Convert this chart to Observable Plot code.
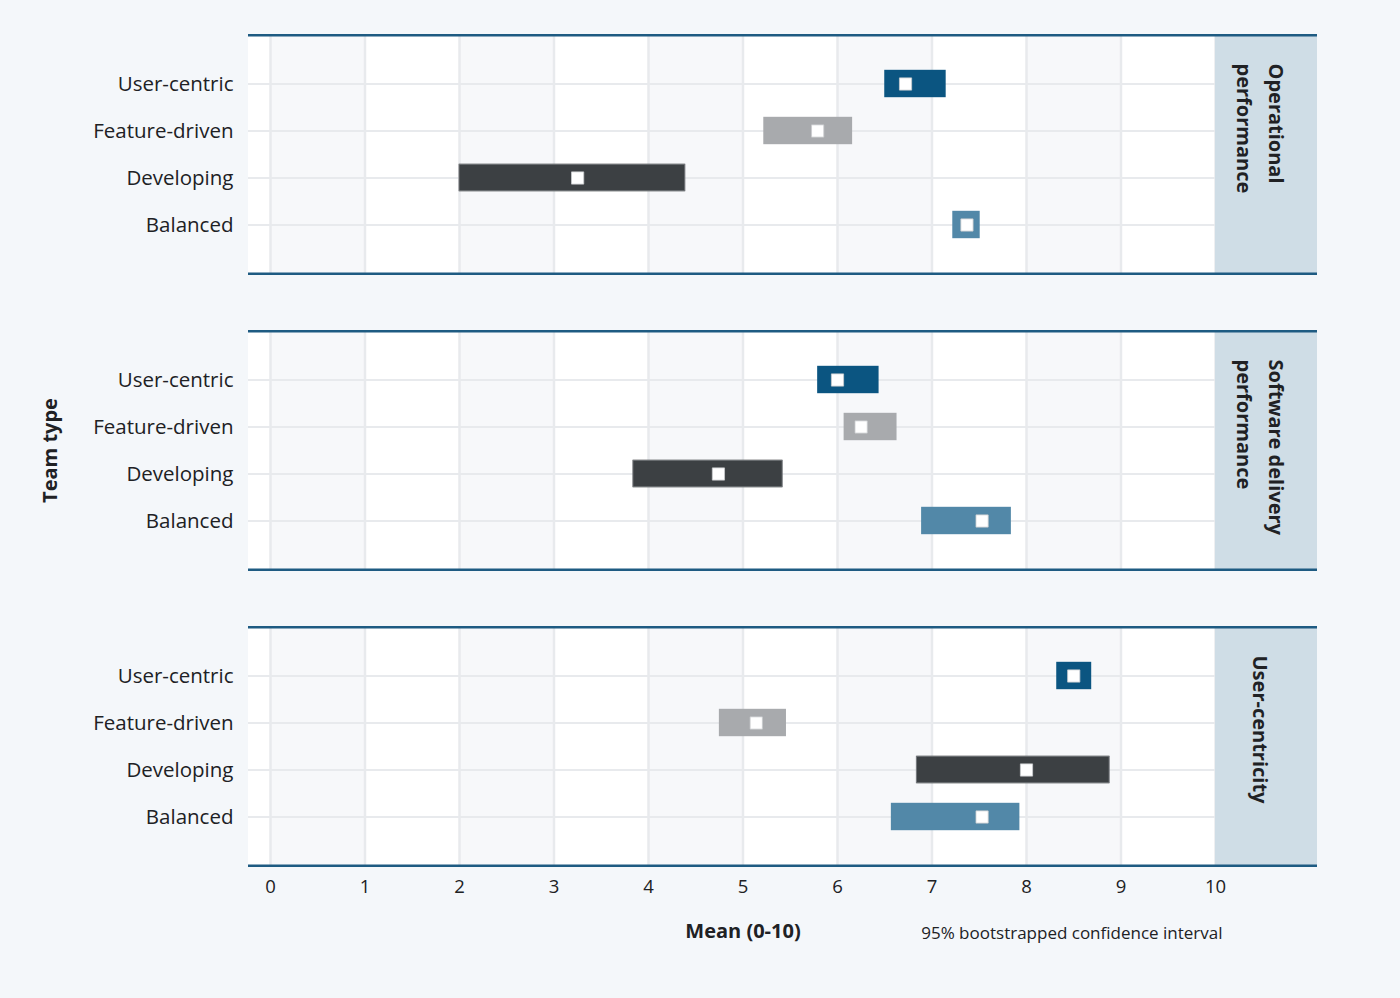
<!DOCTYPE html>
<html>
<head>
<meta charset="utf-8">
<script src="https://cdn.jsdelivr.net/npm/d3@7"></script>
<script src="https://cdn.jsdelivr.net/npm/@observablehq/plot@0.6"></script>
<style>
  html, body { margin: 0; padding: 0; background: #f4f7fa; }
  #chart svg { display: block; }
</style>
</head>
<body>
<div id="chart"></div>
<script>
const facets = ["Operational performance", "Software delivery performance", "User-centricity"];
const facetLabels = ["Operational\nperformance", "Software delivery\nperformance", "User-centricity"];
const teams = ["User-centric", "Feature-driven", "Developing", "Balanced"];
const teamColors = ["#0b5581", "#a8aaad", "#3c4043", "#5288a8"];
const lower = [[6.50, 5.22, 2.00, 7.22], [5.79, 6.07, 3.84, 6.89], [8.32, 4.75, 6.84, 6.57]];
const upper = [[7.15, 6.16, 4.39, 7.51], [6.44, 6.63, 5.42, 7.84], [8.69, 5.46, 8.88, 7.93]];
const means = [[6.72, 5.79, 3.25, 7.37], [6.00, 6.25, 4.74, 7.53], [8.50, 5.14, 8.00, 7.53]];
const xTicks = [0, 1, 2, 3, 4, 5, 6, 7, 8, 9, 10];
const shadedBands = [0, 2, 4, 6, 8];

const data = [];
facets.forEach((f, i) => teams.forEach((t, j) => data.push({facet: f, team: t, lo: lower[i][j], hi: upper[i][j], mean: means[i][j]})));
const stripData = facets.map((f, i) => ({facet: f, label: facetLabels[i]}));

const xmin = -22 / 94.5, xmax = 10 + 102 / 94.5;
const panelH = 238;
const font = "'Open Sans', Roboto, sans-serif";

const chart = Plot.plot({
  width: 1400,
  height: 998,
  marginLeft: 248,
  marginRight: 83,
  marginTop: 35,
  marginBottom: 133,
  style: {background: "#f4f7fa", fontFamily: font, color: "#202124"},
  x: {domain: [xmin, xmax], axis: null},
  y: {domain: teams, paddingInner: 0, paddingOuter: 0.5, axis: null},
  fy: {domain: facets, paddingInner: 0.196, paddingOuter: 0, axis: null},
  color: {domain: teams, range: teamColors},
  marks: [
    Plot.rect([0], {x1: xmin, x2: 10, fill: "white"}),
    Plot.rect(shadedBands, {x1: d => d, x2: d => d + 1, fill: "#f7f8fa"}),
    Plot.ruleX(xTicks, {stroke: "#e8eaed", strokeWidth: 2.5}),
    Plot.ruleY(teams, {y: d => d, x1: xmin, x2: 10, stroke: "#e8eaed", strokeWidth: 2}),
    Plot.rect([0], {x1: 10, x2: xmax, fill: "#cfdde6"}),
    Plot.rect([0], {x1: xmin, x2: xmax, fill: "#1e5b82", insetTop: -1, insetBottom: panelH - 1.5}),
    Plot.rect([0], {x1: xmin, x2: xmax, fill: "#1e5b82", insetTop: panelH - 0.5, insetBottom: -2}),
    Plot.barX(data, {x1: "lo", x2: "hi", y: "team", fy: "facet", fill: "team", insetTop: 9.8, insetBottom: 9.8}),
    Plot.barX(data.filter(d => d.team === "Developing"), {x1: "lo", x2: "hi", y: "team", fy: "facet", fill: "none", stroke: "#74777b", strokeWidth: 1, insetTop: 10.3, insetBottom: 10.3}),
    Plot.dot(data, {x: "mean", y: "team", fy: "facet", symbol: "square", r: 6.9, fill: "white", stroke: "#c9cbce", strokeWidth: 0.8}),
    Plot.axisY({tickSize: 0, tickPadding: 15, fontSize: 20.5, label: null}),
    Plot.axisX(xTicks, {tickSize: 0, tickPadding: 14, fontSize: 18.5, label: null}),
    Plot.text(stripData, {fy: "facet", x: () => 10.5, text: "label", frameAnchor: "top", dy: 28, rotate: 90, textAnchor: "start", lineAnchor: "middle", lineHeight: 1.6, fontSize: 20, fontWeight: "bold", fill: "#202124"}),
    Plot.text([{facet: facets[1]}], {fy: "facet", text: () => "Team type", frameAnchor: "left", dx: -198, rotate: -90, textAnchor: "middle", fontSize: 20, fontWeight: "bold", fill: "#202124"}),
    Plot.text([{facet: facets[2]}], {fy: "facet", x: () => 5, text: () => "Mean (0-10)", frameAnchor: "bottom", dy: 72, textAnchor: "middle", fontSize: 20, fontWeight: "bold", fill: "#202124"}),
    Plot.text([{facet: facets[2]}], {fy: "facet", x: () => 8.48, text: () => "95% bootstrapped confidence interval", frameAnchor: "bottom", dy: 73, textAnchor: "middle", fontSize: 17, fill: "#202124"})
  ]
});
document.getElementById("chart").appendChild(chart);
</script>
</body>
</html>
